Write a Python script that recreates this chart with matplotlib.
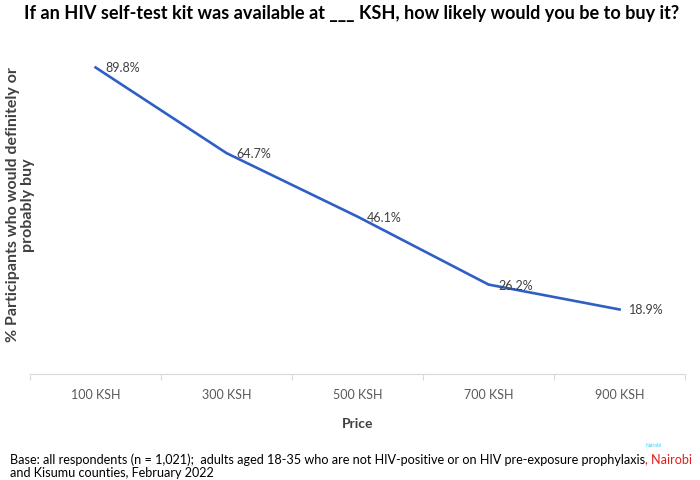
import numpy as np
from matplotlib import pyplot as plt

# data
prices = ['100 KSH', '300 KSH', '500 KSH', '700 KSH', '900 KSH']
pct_buy = [89.8, 64.7, 46.1, 26.2, 18.9]

plt.rcParams['font.family'] = ['Lato', 'DejaVu Sans']

fig = plt.figure(figsize = (7, 4.81), dpi = 100)
ax = fig.add_axes([0.043, 0.2204, 0.9356, 0.7096])

x = np.arange(len(prices))
ax.plot(x, pct_buy, color = '#2f5fc4', linewidth = 1.9)
for xi, v in zip(x, pct_buy):
    ax.annotate('%.1f%%' % v, (xi, v), xytext = (7, 0), textcoords = 'offset points',
                va = 'center', ha = 'left', fontsize = 9, color = '#404040')

ax.set_xlim(-0.5, len(prices) - 0.5)
ax.set_ylim(0, 100)
ax.set_xticks(x)
ax.set_xticklabels(prices, fontsize = 9, color = '#595959')
ax.set_xticks(np.arange(-0.5, len(prices), 1), minor = True)
ax.tick_params(axis = 'x', which = 'major', length = 0, pad = 10)
ax.tick_params(axis = 'x', which = 'minor', length = 4, color = '#d9d9d9', width = 0.8)
ax.set_yticks([])
for s in ['top', 'right', 'left']:
    ax.spines[s].set_visible(False)
ax.spines['bottom'].set_color('#d9d9d9')
ax.spines['bottom'].set_linewidth(0.8)

ax.set_xlabel('Price', fontsize = 10, fontweight = 'bold', color = '#404040', labelpad = 12)
fig.text(0.029, 0.574, '% Participants who would definitely or\nprobably buy', rotation = 90,
         ha = 'center', va = 'center', fontsize = 11.5, fontweight = 'bold', color = '#404040',
         multialignment = 'center', linespacing = 1.1)

fig.text(0.503, 0.971, 'If an HIV self-test kit was available at ___ KSH, how likely would you be to buy it?',
         ha = 'center', va = 'center', fontsize = 13.1, fontweight = 'bold', color = 'black')

# footnote
t1 = fig.text(0.014, 0.045, 'Base: all respondents (n = 1,021);  adults aged 18-35 who are not HIV-positive or on HIV pre-exposure prophylaxis',
              ha = 'left', va = 'center', fontsize = 9.1, color = 'black')
fig.canvas.draw()
bb = t1.get_window_extent()
fig.text(bb.x1 / fig.bbox.width, 0.045, ', Nairobi', ha = 'left', va = 'center', fontsize = 9.1, color = '#e0201b')
fig.text(0.922, 0.073, 'Nairobi', ha = 'left', va = 'center', fontsize = 3.5, color = '#33ccee')
fig.text(0.014, 0.016, 'and Kisumu counties, February 2022', ha = 'left', va = 'center', fontsize = 9.1, color = 'black')

plt.savefig('out.png', dpi = 100)
